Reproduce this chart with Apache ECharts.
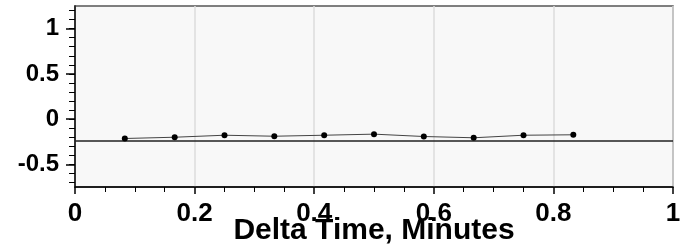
<!DOCTYPE html>
<html lang="en">

<head>
    <meta charset="UTF-8">
    <title>Delta Time</title>
    <script src="https://cdn.jsdelivr.net/npm/echarts@6/dist/echarts.min.js"></script>
    <style>
        body { margin: 0; background: #fff; }
    </style>
</head>

<body>
    <div id="chart" style="width: 690px; height: 248px;"></div>
    <script>
        // measured points (minutes vs value)
        const deltaTime = [0.0833, 0.1667, 0.25, 0.3333, 0.4167, 0.5, 0.5833, 0.6667, 0.75, 0.8333];
        const values = [-0.214, -0.2, -0.178, -0.189, -0.178, -0.166, -0.192, -0.206, -0.178, -0.173];
        // fitted baseline
        const fitX = [0, 1];
        const fitY = [-0.242, -0.242];

        const yMin = -0.75, yMax = 1.25;
        const minorRange = [-0.7, 1.2];   // small ticks every 0.1
        const majorRange = [-0.5, 1.0];   // labelled ticks every 0.5

        const font = 'Liberation Sans, Arial, sans-serif';

        // plot box
        const gTop = 6, gLeft = 75, gRight = 17, gBottom = 61;
        const H = 248 - gTop - gBottom;
        const pxPerUnit = H / (yMax - yMin);
        // helper grids that sit on the same scale, only for the y ticks
        const subGrid = r => ({
            left: gLeft, right: gRight,
            top: gTop + (yMax - r[1]) * pxPerUnit,
            height: (r[1] - r[0]) * pxPerUnit,
            outerBoundsMode: 'none', containLabel: false, show: false
        });

        const hiddenX = gi => ({
            type: 'value', gridIndex: gi, min: 0, max: 1, show: false
        });

        const chart = echarts.init(document.getElementById('chart'));
        chart.setOption({
            animation: false,
            grid: [
                {
                    left: gLeft, right: gRight, top: gTop, bottom: gBottom,
                    outerBoundsMode: 'none',
                    containLabel: false,
                    show: true,
                    backgroundColor: '#f8f8f8',
                    borderColor: '#555',
                    borderWidth: 1.5
                },
                subGrid(minorRange),
                subGrid(majorRange)
            ],
            xAxis: [
                {
                    type: 'value',
                    min: 0,
                    max: 1,
                    interval: 0.2,
                    name: 'Delta Time, Minutes',
                    nameLocation: 'middle',
                    nameGap: 29,
                    nameMoveOverlap: false,
                    nameTextStyle: { fontFamily: font, fontWeight: 'bold', fontSize: 30, color: '#000' },
                    axisLine: { show: true, onZero: false, lineStyle: { color: '#000', width: 1.5 } },
                    axisTick: { show: true, length: 7, lineStyle: { color: '#000', width: 1.5 } },
                    minorTick: { show: true, splitNumber: 4, length: 5, lineStyle: { color: '#000', width: 1 } },
                    axisLabel: {
                        margin: 14,
                        fontFamily: font, fontWeight: 'bold', fontSize: 26, color: '#000',
                        formatter: v => String(+v.toFixed(1))
                    },
                    splitLine: { show: true, lineStyle: { color: '#dcdcdc', width: 1.5 } }
                },
                hiddenX(1),
                hiddenX(2)
            ],
            yAxis: [
                {
                    type: 'value', min: yMin, max: yMax,
                    axisLine: { show: true, onZero: false, lineStyle: { color: '#000', width: 1.5 } },
                    axisTick: { show: false },
                    axisLabel: { show: false },
                    splitLine: { show: false }
                },
                {
                    type: 'value', gridIndex: 1,
                    min: minorRange[0], max: minorRange[1], interval: 0.1,
                    axisLine: { show: false, onZero: false },
                    axisTick: { show: true, length: 6, lineStyle: { color: '#000', width: 1 } },
                    axisLabel: { show: false },
                    splitLine: { show: false }
                },
                {
                    type: 'value', gridIndex: 2,
                    min: majorRange[0], max: majorRange[1], interval: 0.5,
                    axisLine: { show: false, onZero: false },
                    axisTick: { show: true, length: 9, lineStyle: { color: '#000', width: 1.5 } },
                    axisLabel: {
                        margin: 16,
                        fontFamily: font, fontWeight: 'bold', fontSize: 24, color: '#000',
                        formatter: v => String(+(+v).toFixed(1))
                    },
                    splitLine: { show: false }
                }
            ],
            series: [
                {
                    type: 'line',
                    data: fitX.map((x, i) => [x, fitY[i]]),
                    showSymbol: false,
                    lineStyle: { color: '#222', width: 1.5 },
                    z: 2
                },
                {
                    type: 'line',
                    data: deltaTime.map((x, i) => [x, values[i]]),
                    symbol: 'circle',
                    symbolSize: 6,
                    itemStyle: { color: '#000' },
                    lineStyle: { color: '#444', width: 1 },
                    z: 3
                }
            ]
        });
    </script>
</body>

</html>
